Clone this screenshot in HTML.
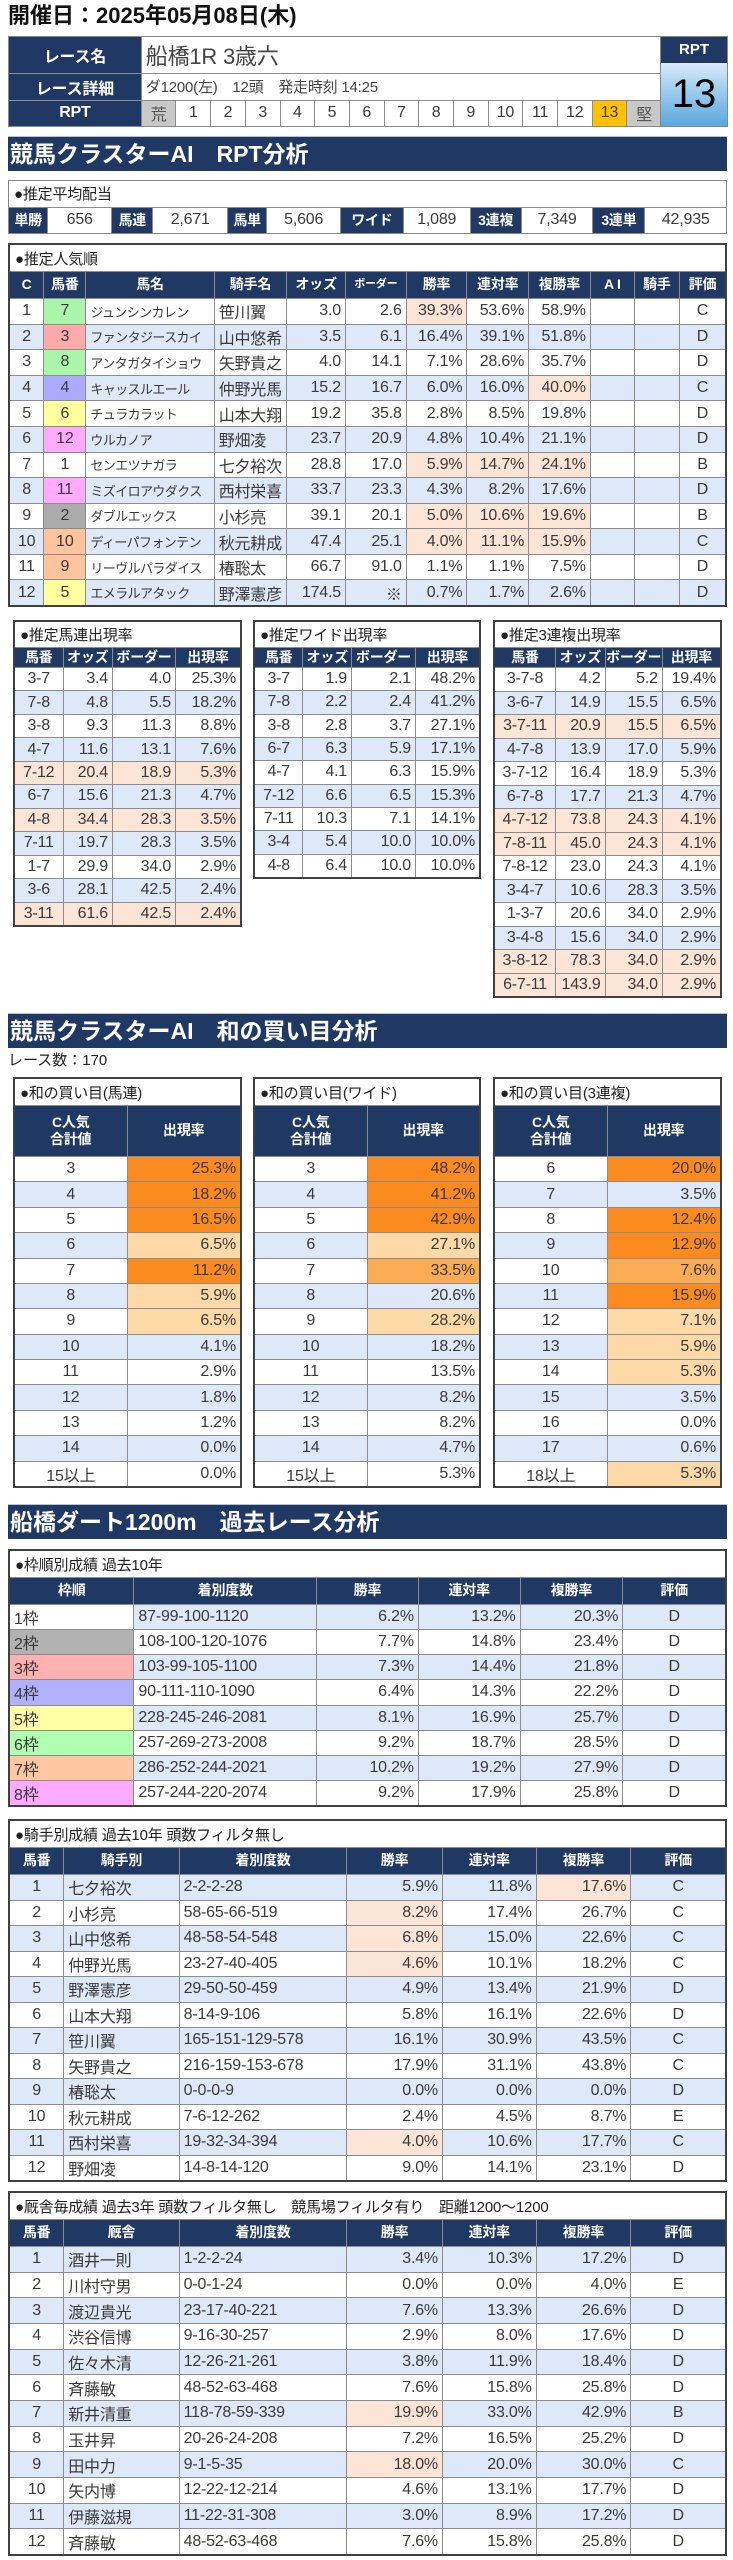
<!DOCTYPE html>
<html><head><meta charset="utf-8">
<style>
*{margin:0;padding:0;box-sizing:border-box}
body{width:733px;height:2560px;position:relative;background:#fff;font-family:"Liberation Sans","Noto Sans CJK JP",sans-serif;color:#3a3a3a;overflow:hidden}
.a{position:absolute}
.g{position:absolute;display:grid;gap:1px;background:#8c8c8c;border:2px solid #404040}
.g>*,.w>*{display:flex;align-items:center;background:#fff;padding:0 4px;font-size:16px;white-space:nowrap;overflow:hidden;letter-spacing:-0.2px}
.w{display:contents}
.w.b>*{background:#dde8f8}
.g>.t{grid-column:1/-1;font-size:15px;color:#222;padding-left:5px}
.h>*{background:#203864 !important;color:#fff;font-weight:bold;justify-content:center;font-size:14px;text-align:center;line-height:1.25}
.r{justify-content:flex-end}
.c{justify-content:center}
.s{background:#fce4d6 !important}
.o1{background:#fb8b1e !important}
.o2{background:#fcab55 !important}
.o3{background:#fed9a8 !important}
.nm{font-size:13px !important;letter-spacing:-0.6px !important}
.bar{position:absolute;left:8px;width:719px;height:35px;background:#203864;color:#fff;font-weight:bold;font-size:23px;line-height:35px;padding-left:2px;border-top:1px solid #b8c2d6}
.lab{background:#203864 !important;color:#fff;font-weight:bold;justify-content:center}
</style></head><body>

<div class="a" style="left:8px;top:2px;font-size:22px;font-weight:bold;color:#111;line-height:28px">開催日：2025年05月08日(木)</div>

<!-- header table -->
<div class="g" style="left:8px;top:36px;width:654px;height:91px;border:1px solid #888;grid-template-columns:135fr repeat(15,34.5fr);grid-template-rows:37fr 27fr 26fr">
  <div class="lab" style="font-size:16px">レース名</div>
  <div style="grid-column:span 15;font-size:22px;color:#444">船橋1R 3歳六</div>
  <div class="lab" style="font-size:16px">レース詳細</div>
  <div style="grid-column:span 15;font-size:15px;color:#444">ダ1200(左)　12頭　発走時刻 14:25</div>
  <div class="lab" style="font-size:16px">RPT</div>
  <div class="c" style="background:#c8c8c8;color:#555">荒</div>
  <div class="c">1</div><div class="c">2</div><div class="c">3</div><div class="c">4</div><div class="c">5</div><div class="c">6</div><div class="c">7</div><div class="c">8</div><div class="c">9</div><div class="c">10</div><div class="c">11</div><div class="c">12</div>
  <div class="c" style="background:#ffc000">13</div>
  <div class="c" style="background:#c8c8c8;color:#555">堅</div>
</div>
<div class="a" style="left:660px;top:36px;width:68px;height:91px;border:1px solid #888">
  <div style="height:26px;background:#203864;color:#fff;font-weight:bold;font-size:15px;text-align:center;line-height:26px">RPT</div>
  <div style="height:63px;background:linear-gradient(#dbeaf8,#8fc5ec 55%,#5aa9e0);color:#000;font-size:40px;text-align:center;line-height:63px">13</div>
</div>

<div class="bar" style="top:136px">競馬クラスターAI　RPT分析</div>

<!-- payout -->
<div class="g" style="left:8px;top:180px;width:719px;height:54px;border:1px solid #888;grid-template-columns:39fr 64fr 41fr 75fr 39fr 74fr 63fr 67fr 51fr 72fr 52fr 82fr;grid-template-rows:26fr 26fr">
  <div class="t">●推定平均配当</div>
  <div class="lab" style="font-size:14px">単勝</div><div class="c">656</div>
  <div class="lab" style="font-size:14px">馬連</div><div class="c">2,671</div>
  <div class="lab" style="font-size:14px">馬単</div><div class="c">5,606</div>
  <div class="lab" style="font-size:14px">ワイド</div><div class="c">1,089</div>
  <div class="lab" style="font-size:14px">3連複</div><div class="c">7,349</div>
  <div class="lab" style="font-size:14px">3連単</div><div class="c">42,935</div>
</div>

<!-- popularity -->
<div class="g" style="left:8px;top:243px;width:719px;height:364px;grid-template-columns:34fr 42fr 130fr 73fr 59fr 61fr 61fr 62fr 62fr 44fr 45fr 46fr;grid-template-rows:26px 26px repeat(12,1fr)">
  <div class="t">●推定人気順</div>
  <div class="w h"><div>C</div><div>馬番</div><div>馬名</div><div>騎手名</div><div>オッズ</div><div style="font-size:11px">ボーダー</div><div>勝率</div><div>連対率</div><div>複勝率</div><div>A I</div><div>騎手</div><div>評価</div></div>
  <div class="w"><div class="c">1</div><div class="c" style="background:#aaf5aa">7</div><div class="nm">ジュンシンカレン</div><div>笹川翼</div><div class="r">3.0</div><div class="r">2.6</div><div class="r s">39.3%</div><div class="r">53.6%</div><div class="r">58.9%</div><div></div><div></div><div class="c">C</div></div>
  <div class="w b"><div class="c">2</div><div class="c" style="background:#ffaaaa">3</div><div class="nm">ファンタジースカイ</div><div>山中悠希</div><div class="r">3.5</div><div class="r">6.1</div><div class="r">16.4%</div><div class="r">39.1%</div><div class="r">51.8%</div><div></div><div></div><div class="c">D</div></div>
  <div class="w"><div class="c">3</div><div class="c" style="background:#aaf5aa">8</div><div class="nm">アンタガタイショウ</div><div>矢野貴之</div><div class="r">4.0</div><div class="r">14.1</div><div class="r">7.1%</div><div class="r">28.6%</div><div class="r">35.7%</div><div></div><div></div><div class="c">D</div></div>
  <div class="w b"><div class="c">4</div><div class="c" style="background:#aaaaff">4</div><div class="nm">キャッスルエール</div><div>仲野光馬</div><div class="r">15.2</div><div class="r">16.7</div><div class="r">6.0%</div><div class="r">16.0%</div><div class="r s">40.0%</div><div></div><div></div><div class="c">C</div></div>
  <div class="w"><div class="c">5</div><div class="c" style="background:#ffff9e">6</div><div class="nm">チュラカラット</div><div>山本大翔</div><div class="r">19.2</div><div class="r">35.8</div><div class="r">2.8%</div><div class="r">8.5%</div><div class="r">19.8%</div><div></div><div></div><div class="c">D</div></div>
  <div class="w b"><div class="c">6</div><div class="c" style="background:#ffaaff">12</div><div class="nm">ウルカノア</div><div>野畑凌</div><div class="r">23.7</div><div class="r">20.9</div><div class="r">4.8%</div><div class="r">10.4%</div><div class="r">21.1%</div><div></div><div></div><div class="c">D</div></div>
  <div class="w"><div class="c">7</div><div class="c">1</div><div class="nm">センエツナガラ</div><div>七夕裕次</div><div class="r">28.8</div><div class="r">17.0</div><div class="r s">5.9%</div><div class="r s">14.7%</div><div class="r s">24.1%</div><div></div><div></div><div class="c">B</div></div>
  <div class="w b"><div class="c">8</div><div class="c" style="background:#ffaaff">11</div><div class="nm">ミズイロアウダクス</div><div>西村栄喜</div><div class="r">33.7</div><div class="r">23.3</div><div class="r">4.3%</div><div class="r">8.2%</div><div class="r">17.6%</div><div></div><div></div><div class="c">D</div></div>
  <div class="w"><div class="c">9</div><div class="c" style="background:#ababab">2</div><div class="nm">ダブルエックス</div><div>小杉亮</div><div class="r">39.1</div><div class="r">20.1</div><div class="r s">5.0%</div><div class="r s">10.6%</div><div class="r s">19.6%</div><div></div><div></div><div class="c">B</div></div>
  <div class="w b"><div class="c">10</div><div class="c" style="background:#ffc49e">10</div><div class="nm">ディーパフォンテン</div><div>秋元耕成</div><div class="r">47.4</div><div class="r">25.1</div><div class="r s">4.0%</div><div class="r s">11.1%</div><div class="r s">15.9%</div><div></div><div></div><div class="c">C</div></div>
  <div class="w"><div class="c">11</div><div class="c" style="background:#ffc49e">9</div><div class="nm">リーヴルパラダイス</div><div>椿聡太</div><div class="r">66.7</div><div class="r">91.0</div><div class="r">1.1%</div><div class="r">1.1%</div><div class="r">7.5%</div><div></div><div></div><div class="c">D</div></div>
  <div class="w b"><div class="c">12</div><div class="c" style="background:#ffff9e">5</div><div class="nm">エメラルアタック</div><div>野澤憲彦</div><div class="r">174.5</div><div class="r">※</div><div class="r">0.7%</div><div class="r">1.7%</div><div class="r">2.6%</div><div></div><div></div><div class="c">D</div></div>
</div>

<!-- small tables -->
<div class="g" style="left:13px;top:620px;width:229px;height:307px;grid-template-columns:49fr 50fr 64fr 66fr;grid-template-rows:25px 19px repeat(11,1fr)">
  <div class="t">●推定馬連出現率</div>
  <div class="w h"><div>馬番</div><div>オッズ</div><div>ボーダー</div><div>出現率</div></div>
  <div class="w"><div class="c">3-7</div><div class="r">3.4</div><div class="r">4.0</div><div class="r">25.3%</div></div>
  <div class="w b"><div class="c">7-8</div><div class="r">4.8</div><div class="r">5.5</div><div class="r">18.2%</div></div>
  <div class="w"><div class="c">3-8</div><div class="r">9.3</div><div class="r">11.3</div><div class="r">8.8%</div></div>
  <div class="w b"><div class="c">4-7</div><div class="r">11.6</div><div class="r">13.1</div><div class="r">7.6%</div></div>
  <div class="w"><div class="c s">7-12</div><div class="r s">20.4</div><div class="r s">18.9</div><div class="r s">5.3%</div></div>
  <div class="w b"><div class="c">6-7</div><div class="r">15.6</div><div class="r">21.3</div><div class="r">4.7%</div></div>
  <div class="w"><div class="c s">4-8</div><div class="r s">34.4</div><div class="r s">28.3</div><div class="r s">3.5%</div></div>
  <div class="w b"><div class="c">7-11</div><div class="r">19.7</div><div class="r">28.3</div><div class="r">3.5%</div></div>
  <div class="w"><div class="c">1-7</div><div class="r">29.9</div><div class="r">34.0</div><div class="r">2.9%</div></div>
  <div class="w b"><div class="c">3-6</div><div class="r">28.1</div><div class="r">42.5</div><div class="r">2.4%</div></div>
  <div class="w"><div class="c s">3-11</div><div class="r s">61.6</div><div class="r s">42.5</div><div class="r s">2.4%</div></div>
</div>

<div class="g" style="left:253px;top:620px;width:228px;height:259px;grid-template-columns:49fr 49fr 65fr 65fr;grid-template-rows:25px 19px repeat(9,1fr)">
  <div class="t">●推定ワイド出現率</div>
  <div class="w h"><div>馬番</div><div>オッズ</div><div>ボーダー</div><div>出現率</div></div>
  <div class="w"><div class="c">3-7</div><div class="r">1.9</div><div class="r">2.1</div><div class="r">48.2%</div></div>
  <div class="w b"><div class="c">7-8</div><div class="r">2.2</div><div class="r">2.4</div><div class="r">41.2%</div></div>
  <div class="w"><div class="c">3-8</div><div class="r">2.8</div><div class="r">3.7</div><div class="r">27.1%</div></div>
  <div class="w b"><div class="c">6-7</div><div class="r">6.3</div><div class="r">5.9</div><div class="r">17.1%</div></div>
  <div class="w"><div class="c">4-7</div><div class="r">4.1</div><div class="r">6.3</div><div class="r">15.9%</div></div>
  <div class="w b"><div class="c">7-12</div><div class="r">6.6</div><div class="r">6.5</div><div class="r">15.3%</div></div>
  <div class="w"><div class="c">7-11</div><div class="r">10.3</div><div class="r">7.1</div><div class="r">14.1%</div></div>
  <div class="w b"><div class="c">3-4</div><div class="r">5.4</div><div class="r">10.0</div><div class="r">10.0%</div></div>
  <div class="w"><div class="c">4-8</div><div class="r">6.4</div><div class="r">10.0</div><div class="r">10.0%</div></div>
</div>

<div class="g" style="left:493px;top:620px;width:229px;height:378px;grid-template-columns:62fr 50fr 58fr 59fr;grid-template-rows:25px 19px repeat(14,1fr)">
  <div class="t">●推定3連複出現率</div>
  <div class="w h"><div>馬番</div><div>オッズ</div><div>ボーダー</div><div>出現率</div></div>
  <div class="w"><div class="c">3-7-8</div><div class="r">4.2</div><div class="r">5.2</div><div class="r">19.4%</div></div>
  <div class="w b"><div class="c">3-6-7</div><div class="r">14.9</div><div class="r">15.5</div><div class="r">6.5%</div></div>
  <div class="w"><div class="c s">3-7-11</div><div class="r s">20.9</div><div class="r s">15.5</div><div class="r s">6.5%</div></div>
  <div class="w b"><div class="c">4-7-8</div><div class="r">13.9</div><div class="r">17.0</div><div class="r">5.9%</div></div>
  <div class="w"><div class="c">3-7-12</div><div class="r">16.4</div><div class="r">18.9</div><div class="r">5.3%</div></div>
  <div class="w b"><div class="c">6-7-8</div><div class="r">17.7</div><div class="r">21.3</div><div class="r">4.7%</div></div>
  <div class="w"><div class="c s">4-7-12</div><div class="r s">73.8</div><div class="r s">24.3</div><div class="r s">4.1%</div></div>
  <div class="w b"><div class="c s">7-8-11</div><div class="r s">45.0</div><div class="r s">24.3</div><div class="r s">4.1%</div></div>
  <div class="w"><div class="c">7-8-12</div><div class="r">23.0</div><div class="r">24.3</div><div class="r">4.1%</div></div>
  <div class="w b"><div class="c">3-4-7</div><div class="r">10.6</div><div class="r">28.3</div><div class="r">3.5%</div></div>
  <div class="w"><div class="c">1-3-7</div><div class="r">20.6</div><div class="r">34.0</div><div class="r">2.9%</div></div>
  <div class="w b"><div class="c">3-4-8</div><div class="r">15.6</div><div class="r">34.0</div><div class="r">2.9%</div></div>
  <div class="w"><div class="c s">3-8-12</div><div class="r s">78.3</div><div class="r s">34.0</div><div class="r s">2.9%</div></div>
  <div class="w b"><div class="c s">6-7-11</div><div class="r s">143.9</div><div class="r s">34.0</div><div class="r s">2.9%</div></div>
</div>

<div class="bar" style="top:1013px">競馬クラスターAI　和の買い目分析</div>
<div class="a" style="left:8px;top:1051px;font-size:15px;color:#222;line-height:20px">レース数：170</div>

<div class="g" style="left:13px;top:1077px;width:229px;height:411px;grid-template-columns:114fr 115fr;grid-template-rows:26px 50px repeat(13,1fr)">
  <div class="t">●和の買い目(馬連)</div>
  <div class="w h"><div>C人気<br>合計値</div><div>出現率</div></div>
  <div class="w"><div class="c">3</div><div class="r o1">25.3%</div></div>
  <div class="w b"><div class="c">4</div><div class="r o1">18.2%</div></div>
  <div class="w"><div class="c">5</div><div class="r o1">16.5%</div></div>
  <div class="w b"><div class="c">6</div><div class="r o3">6.5%</div></div>
  <div class="w"><div class="c">7</div><div class="r o1">11.2%</div></div>
  <div class="w b"><div class="c">8</div><div class="r o3">5.9%</div></div>
  <div class="w"><div class="c">9</div><div class="r o3">6.5%</div></div>
  <div class="w b"><div class="c">10</div><div class="r">4.1%</div></div>
  <div class="w"><div class="c">11</div><div class="r">2.9%</div></div>
  <div class="w b"><div class="c">12</div><div class="r">1.8%</div></div>
  <div class="w"><div class="c">13</div><div class="r">1.2%</div></div>
  <div class="w b"><div class="c">14</div><div class="r">0.0%</div></div>
  <div class="w"><div class="c">15以上</div><div class="r">0.0%</div></div>
</div>

<div class="g" style="left:253px;top:1077px;width:228px;height:411px;grid-template-columns:114fr 114fr;grid-template-rows:26px 50px repeat(13,1fr)">
  <div class="t">●和の買い目(ワイド)</div>
  <div class="w h"><div>C人気<br>合計値</div><div>出現率</div></div>
  <div class="w"><div class="c">3</div><div class="r o1">48.2%</div></div>
  <div class="w b"><div class="c">4</div><div class="r o1">41.2%</div></div>
  <div class="w"><div class="c">5</div><div class="r o1">42.9%</div></div>
  <div class="w b"><div class="c">6</div><div class="r o3">27.1%</div></div>
  <div class="w"><div class="c">7</div><div class="r o2">33.5%</div></div>
  <div class="w b"><div class="c">8</div><div class="r">20.6%</div></div>
  <div class="w"><div class="c">9</div><div class="r o3">28.2%</div></div>
  <div class="w b"><div class="c">10</div><div class="r">18.2%</div></div>
  <div class="w"><div class="c">11</div><div class="r">13.5%</div></div>
  <div class="w b"><div class="c">12</div><div class="r">8.2%</div></div>
  <div class="w"><div class="c">13</div><div class="r">8.2%</div></div>
  <div class="w b"><div class="c">14</div><div class="r">4.7%</div></div>
  <div class="w"><div class="c">15以上</div><div class="r">5.3%</div></div>
</div>

<div class="g" style="left:493px;top:1077px;width:229px;height:411px;grid-template-columns:114fr 115fr;grid-template-rows:26px 50px repeat(13,1fr)">
  <div class="t">●和の買い目(3連複)</div>
  <div class="w h"><div>C人気<br>合計値</div><div>出現率</div></div>
  <div class="w"><div class="c">6</div><div class="r o1">20.0%</div></div>
  <div class="w b"><div class="c">7</div><div class="r">3.5%</div></div>
  <div class="w"><div class="c">8</div><div class="r o1">12.4%</div></div>
  <div class="w b"><div class="c">9</div><div class="r o1">12.9%</div></div>
  <div class="w"><div class="c">10</div><div class="r o2">7.6%</div></div>
  <div class="w b"><div class="c">11</div><div class="r o1">15.9%</div></div>
  <div class="w"><div class="c">12</div><div class="r o3">7.1%</div></div>
  <div class="w b"><div class="c">13</div><div class="r o3">5.9%</div></div>
  <div class="w"><div class="c">14</div><div class="r o3">5.3%</div></div>
  <div class="w b"><div class="c">15</div><div class="r">3.5%</div></div>
  <div class="w"><div class="c">16</div><div class="r">0.0%</div></div>
  <div class="w b"><div class="c">17</div><div class="r">0.6%</div></div>
  <div class="w"><div class="c">18以上</div><div class="r o3">5.3%</div></div>
</div>

<div class="bar" style="top:1504px">船橋ダート1200m　過去レース分析</div>

<div class="g" style="left:8px;top:1549px;width:719px;height:258px;grid-template-columns:125fr 184fr 102fr 102fr 103fr 103fr;grid-template-rows:26px 26px repeat(8,1fr)">
  <div class="t">●枠順別成績 過去10年</div>
  <div class="w h"><div>枠順</div><div>着別度数</div><div>勝率</div><div>連対率</div><div>複勝率</div><div>評価</div></div>
  <div class="w b"><div style="background:#fff">1枠</div><div>87-99-100-1120</div><div class="r">6.2%</div><div class="r">13.2%</div><div class="r">20.3%</div><div class="c">D</div></div>
  <div class="w"><div style="background:#b2b2b2">2枠</div><div>108-100-120-1076</div><div class="r">7.7%</div><div class="r">14.8%</div><div class="r">23.4%</div><div class="c">D</div></div>
  <div class="w b"><div style="background:#ffb0b0">3枠</div><div>103-99-105-1100</div><div class="r">7.3%</div><div class="r">14.4%</div><div class="r">21.8%</div><div class="c">D</div></div>
  <div class="w"><div style="background:#b0b0ff">4枠</div><div>90-111-110-1090</div><div class="r">6.4%</div><div class="r">14.3%</div><div class="r">22.2%</div><div class="c">D</div></div>
  <div class="w b"><div style="background:#ffffa6">5枠</div><div>228-245-246-2081</div><div class="r">8.1%</div><div class="r">16.9%</div><div class="r">25.7%</div><div class="c">D</div></div>
  <div class="w"><div style="background:#b0ffb0">6枠</div><div>257-269-273-2008</div><div class="r">9.2%</div><div class="r">18.7%</div><div class="r">28.5%</div><div class="c">D</div></div>
  <div class="w b"><div style="background:#ffc8a2">7枠</div><div>286-252-244-2021</div><div class="r">10.2%</div><div class="r">19.2%</div><div class="r">27.9%</div><div class="c">D</div></div>
  <div class="w"><div style="background:#ffaaff">8枠</div><div>257-244-220-2074</div><div class="r">9.2%</div><div class="r">17.9%</div><div class="r">25.8%</div><div class="c">D</div></div>
</div>

<div class="g" style="left:8px;top:1819px;width:719px;height:363px;grid-template-columns:54fr 116fr 169fr 96fr 94fr 95fr 95fr;grid-template-rows:26px 26px repeat(12,1fr)">
  <div class="t">●騎手別成績 過去10年 頭数フィルタ無し</div>
  <div class="w h"><div>馬番</div><div>騎手別</div><div>着別度数</div><div>勝率</div><div>連対率</div><div>複勝率</div><div>評価</div></div>
  <div class="w b"><div class="c">1</div><div>七夕裕次</div><div>2-2-2-28</div><div class="r">5.9%</div><div class="r">11.8%</div><div class="r s">17.6%</div><div class="c">C</div></div>
  <div class="w"><div class="c">2</div><div>小杉亮</div><div>58-65-66-519</div><div class="r s">8.2%</div><div class="r">17.4%</div><div class="r">26.7%</div><div class="c">C</div></div>
  <div class="w b"><div class="c">3</div><div>山中悠希</div><div>48-58-54-548</div><div class="r s">6.8%</div><div class="r">15.0%</div><div class="r">22.6%</div><div class="c">C</div></div>
  <div class="w"><div class="c">4</div><div>仲野光馬</div><div>23-27-40-405</div><div class="r s">4.6%</div><div class="r">10.1%</div><div class="r">18.2%</div><div class="c">C</div></div>
  <div class="w b"><div class="c">5</div><div>野澤憲彦</div><div>29-50-50-459</div><div class="r">4.9%</div><div class="r">13.4%</div><div class="r">21.9%</div><div class="c">D</div></div>
  <div class="w"><div class="c">6</div><div>山本大翔</div><div>8-14-9-106</div><div class="r">5.8%</div><div class="r">16.1%</div><div class="r">22.6%</div><div class="c">D</div></div>
  <div class="w b"><div class="c">7</div><div>笹川翼</div><div>165-151-129-578</div><div class="r">16.1%</div><div class="r">30.9%</div><div class="r">43.5%</div><div class="c">C</div></div>
  <div class="w"><div class="c">8</div><div>矢野貴之</div><div>216-159-153-678</div><div class="r">17.9%</div><div class="r">31.1%</div><div class="r">43.8%</div><div class="c">C</div></div>
  <div class="w b"><div class="c">9</div><div>椿聡太</div><div>0-0-0-9</div><div class="r">0.0%</div><div class="r">0.0%</div><div class="r">0.0%</div><div class="c">D</div></div>
  <div class="w"><div class="c">10</div><div>秋元耕成</div><div>7-6-12-262</div><div class="r">2.4%</div><div class="r">4.5%</div><div class="r">8.7%</div><div class="c">E</div></div>
  <div class="w b"><div class="c">11</div><div>西村栄喜</div><div>19-32-34-394</div><div class="r s">4.0%</div><div class="r">10.6%</div><div class="r">17.7%</div><div class="c">C</div></div>
  <div class="w"><div class="c">12</div><div>野畑凌</div><div>14-8-14-120</div><div class="r">9.0%</div><div class="r">14.1%</div><div class="r">23.1%</div><div class="c">D</div></div>
</div>

<div class="g" style="left:8px;top:2191px;width:719px;height:365px;grid-template-columns:54fr 116fr 169fr 96fr 94fr 95fr 95fr;grid-template-rows:26px 26px repeat(12,1fr)">
  <div class="t">●厩舎毎成績 過去3年 頭数フィルタ無し　競馬場フィルタ有り　距離1200～1200</div>
  <div class="w h"><div>馬番</div><div>厩舎</div><div>着別度数</div><div>勝率</div><div>連対率</div><div>複勝率</div><div>評価</div></div>
  <div class="w b"><div class="c">1</div><div>酒井一則</div><div>1-2-2-24</div><div class="r">3.4%</div><div class="r">10.3%</div><div class="r">17.2%</div><div class="c">D</div></div>
  <div class="w"><div class="c">2</div><div>川村守男</div><div>0-0-1-24</div><div class="r">0.0%</div><div class="r">0.0%</div><div class="r">4.0%</div><div class="c">E</div></div>
  <div class="w b"><div class="c">3</div><div>渡辺貴光</div><div>23-17-40-221</div><div class="r">7.6%</div><div class="r">13.3%</div><div class="r">26.6%</div><div class="c">D</div></div>
  <div class="w"><div class="c">4</div><div>渋谷信博</div><div>9-16-30-257</div><div class="r">2.9%</div><div class="r">8.0%</div><div class="r">17.6%</div><div class="c">D</div></div>
  <div class="w b"><div class="c">5</div><div>佐々木清</div><div>12-26-21-261</div><div class="r">3.8%</div><div class="r">11.9%</div><div class="r">18.4%</div><div class="c">D</div></div>
  <div class="w"><div class="c">6</div><div>斉藤敏</div><div>48-52-63-468</div><div class="r">7.6%</div><div class="r">15.8%</div><div class="r">25.8%</div><div class="c">D</div></div>
  <div class="w b"><div class="c">7</div><div>新井清重</div><div>118-78-59-339</div><div class="r s">19.9%</div><div class="r">33.0%</div><div class="r">42.9%</div><div class="c">B</div></div>
  <div class="w"><div class="c">8</div><div>玉井昇</div><div>20-26-24-208</div><div class="r">7.2%</div><div class="r">16.5%</div><div class="r">25.2%</div><div class="c">D</div></div>
  <div class="w b"><div class="c">9</div><div>田中力</div><div>9-1-5-35</div><div class="r s">18.0%</div><div class="r">20.0%</div><div class="r">30.0%</div><div class="c">C</div></div>
  <div class="w"><div class="c">10</div><div>矢内博</div><div>12-22-12-214</div><div class="r">4.6%</div><div class="r">13.1%</div><div class="r">17.7%</div><div class="c">D</div></div>
  <div class="w b"><div class="c">11</div><div>伊藤滋規</div><div>11-22-31-308</div><div class="r">3.0%</div><div class="r">8.9%</div><div class="r">17.2%</div><div class="c">D</div></div>
  <div class="w"><div class="c">12</div><div>斉藤敏</div><div>48-52-63-468</div><div class="r">7.6%</div><div class="r">15.8%</div><div class="r">25.8%</div><div class="c">D</div></div>
</div>

</body></html>
